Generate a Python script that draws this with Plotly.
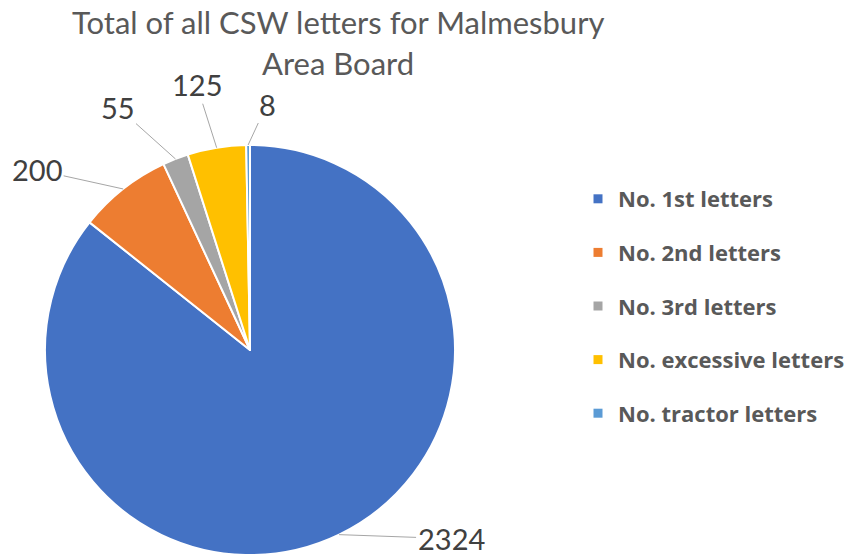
import math
import plotly.graph_objects as go

categories = ["No. 1st letters", "No. 2nd letters", "No. 3rd letters",
              "No. excessive letters", "No. tractor letters"]
values = [2324, 200, 55, 125, 8]
colors = ["#4472C4", "#ED7D31", "#A5A5A5", "#FFC000", "#5B9BD5"]
title_lines = ["Total of all CSW letters for Malmesbury", "Area Board"]

W, H = 852, 556
cx, cy, r = 250, 350, 205  # pie centre / radius in pixels (layout)

# label offsets (pixels from slice edge point) - style only
label_offsets = [(112, 4), (-86, -19), (-58, -52), (-20, -63), (19, -41)]

fig = go.Figure()
fig.add_trace(go.Pie(
    labels=categories, values=values, sort=False, direction="clockwise",
    rotation=0, textinfo="none", hoverinfo="label+value",
    marker=dict(colors=colors, line=dict(color="white", width=2)),
    domain=dict(x=[(cx - r) / W, (cx + r) / W], y=[1 - (cy + r) / H, 1 - (cy - r) / H]),
    showlegend=False,
))

# legend via dummy traces (to control spacing)
for i, (c, col) in enumerate(zip(categories, colors)):
    fig.add_trace(go.Scatter(
        x=[None], y=[None], mode="markers", name=c, legendgroup=f"g{i}",
        marker=dict(symbol="square", size=9, color=col), hoverinfo="skip",
    ))

total = sum(values)
cum = 0
annotations = []
for v, (ax, ay) in zip(values, label_offsets):
    mid = (cum + v / 2) / total * 2 * math.pi
    cum += v
    px = cx + r * math.sin(mid)
    py = cy - r * math.cos(mid)
    annotations.append(dict(
        x=px / W, y=1 - py / H, xref="paper", yref="paper",
        text=str(v), showarrow=True, arrowhead=0, arrowwidth=1,
        arrowcolor="#A6A6A6", ax=ax, ay=ay, standoff=0,
        font=dict(family="Lato", size=29, color="#404040"),
    ))

for line, ty in zip(title_lines, [22, 63]):
    annotations.append(dict(
        x=338 / W, y=1 - ty / H, xref="paper", yref="paper",
        xanchor="center", yanchor="middle", showarrow=False, text=line,
        font=dict(family="Lato", size=31, color="#595959"),
    ))

fig.update_layout(
    width=W, height=H, margin=dict(l=0, r=0, t=0, b=0),
    paper_bgcolor="white", plot_bgcolor="white",
    xaxis=dict(visible=False), yaxis=dict(visible=False),
    legend=dict(x=578 / W, y=1 - 178 / H, xanchor="left", yanchor="top",
                tracegroupgap=22, itemclick=False,
                font=dict(family="Open Sans", size=22, color="#595959", weight="bold")),
    annotations=annotations,
)

fig.write_html(
    "out.html",
    config={"displayModeBar": False},
    post_script="document.body.style.margin='0';document.body.style.padding='0';document.body.style.overflow='hidden';",
)
